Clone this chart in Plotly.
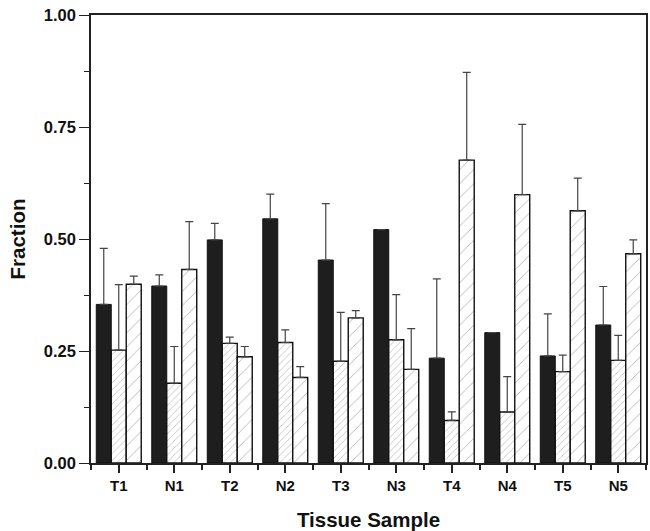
import plotly.graph_objects as go

# Tissue samples (tumour / normal pairs)
categories = ["T1", "N1", "T2", "N2", "T3", "N3", "T4", "N4", "T5", "N5"]

# Fraction for each of the three components, with error (upper) values
frac_a = [0.354, 0.395, 0.498, 0.545, 0.453, 0.521, 0.234, 0.291, 0.239, 0.308]
err_a = [0.125, 0.025, 0.037, 0.055, 0.126, 0.0, 0.177, 0.0, 0.094, 0.086]

frac_b = [0.252, 0.178, 0.267, 0.269, 0.227, 0.275, 0.095, 0.114, 0.204, 0.229]
err_b = [0.146, 0.082, 0.014, 0.028, 0.109, 0.101, 0.019, 0.079, 0.037, 0.056]

frac_c = [0.399, 0.432, 0.237, 0.191, 0.324, 0.209, 0.676, 0.599, 0.563, 0.467]
err_c = [0.018, 0.107, 0.023, 0.024, 0.016, 0.091, 0.196, 0.157, 0.073, 0.031]

y_ticks = [0.0, 0.25, 0.5, 0.75, 1.0]
y_ticktext = ["0.00", "0.25", "0.50", "0.75", "1.00"]

x_pos = list(range(len(categories)))

font_family = "Liberation Sans, Arial, sans-serif"


def err_style(vals):
    return dict(type="data", array=vals, symmetric=False,
                arrayminus=[0] * len(vals), color="#444444",
                thickness=1.2, width=4)


fig = go.Figure()
fig.add_trace(go.Bar(
    x=x_pos, y=frac_a, name="A",
    marker=dict(color="#1e1e1e", line=dict(color="#111111", width=1)),
    error_y=err_style(err_a),
))
fig.add_trace(go.Bar(
    x=x_pos, y=frac_b, name="B",
    marker=dict(color="white", line=dict(color="#111111", width=1.4),
                pattern=dict(shape="/", size=5, solidity=0.14,
                             fgcolor="#6a6a6a", bgcolor="white")),
    error_y=err_style(err_b),
))
fig.add_trace(go.Bar(
    x=x_pos, y=frac_c, name="C",
    marker=dict(color="white", line=dict(color="#111111", width=1.4),
                pattern=dict(shape="/", size=10, solidity=0.08,
                             fgcolor="#5a5a5a", bgcolor="white")),
    error_y=err_style(err_c),
))

fig.update_layout(
    width=650, height=531,
    margin=dict(l=91, r=2, t=15, b=68),
    paper_bgcolor="white", plot_bgcolor="white",
    barmode="group", bargap=0.19, bargroupgap=0,
    showlegend=False,
    font=dict(family=font_family, color="#111111"),
)

fig.update_xaxes(
    range=[-0.5, len(categories) - 0.5],
    tickmode="array", tickvals=x_pos, ticktext=categories,
    ticks="outside", ticklen=8, tickwidth=2, tickcolor="#222222",
    tickfont=dict(size=15, family=font_family, weight="bold"),
    minor=dict(tickmode="linear", tick0=-0.5, dtick=1, ticks="outside",
               ticklen=5, tickwidth=1.5, tickcolor="#222222"),
    showline=True, linecolor="#222222", linewidth=1.5, mirror=True,
    showgrid=False, zeroline=False,
    title=dict(text="Tissue Sample", standoff=20,
               font=dict(size=20.5, family=font_family, weight="bold")),
)

fig.update_yaxes(
    range=[0, 1.0],
    tickmode="array", tickvals=y_ticks, ticktext=y_ticktext,
    ticks="outside", ticklen=10, tickwidth=1.2, tickcolor="#222222",
    tickfont=dict(size=16.5, family=font_family, weight="bold"),
    minor=dict(tickmode="linear", tick0=0, dtick=0.125, ticks="outside",
               ticklen=5, tickwidth=1.2, tickcolor="#222222"),
    showline=True, linecolor="#222222", linewidth=1.5, mirror=True,
    showgrid=False, zeroline=False,
    title=dict(text="Fraction", standoff=13,
               font=dict(size=20.5, family=font_family, weight="bold")),
)

fig.write_html("out.html")
